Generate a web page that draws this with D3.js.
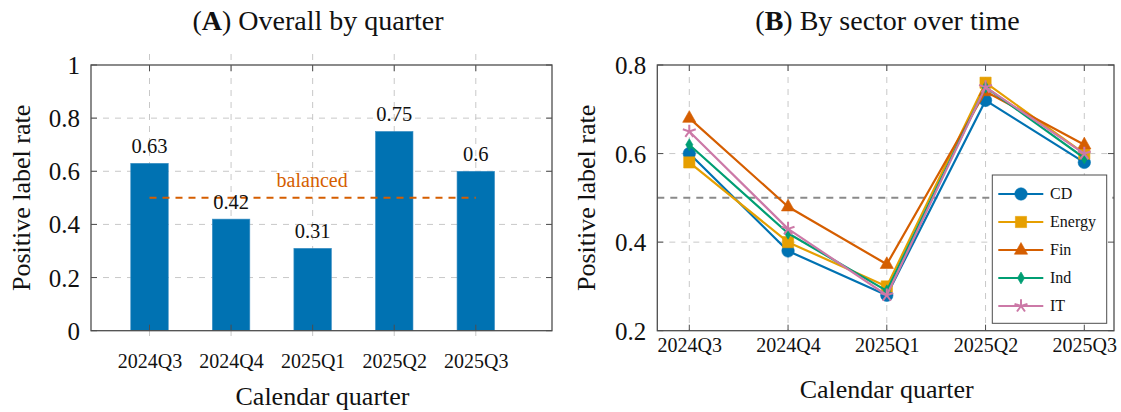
<!DOCTYPE html>
<html>
<head>
<meta charset="utf-8">
<script src="https://cdn.jsdelivr.net/npm/d3@7"></script>
<style>
  html, body { margin: 0; padding: 0; background: #fff; }
  svg { display: block; font-family: "Liberation Serif", "Times New Roman", serif; }
  svg text { font-family: "Liberation Serif", "Times New Roman", serif; }
</style>
</head>
<body>
<svg id="chart" width="1121" height="412"></svg>
<script>
// Quarters shown on both panels
const quarters = ["2024Q3", "2024Q4", "2025Q1", "2025Q2", "2025Q3"];

// Panel A: overall positive label rate per quarter
const overallRate = [0.63, 0.42, 0.31, 0.75, 0.60];
const balancedLevel = 0.5;

// Panel B: positive label rate per sector
const sectorNames = ["CD", "Energy", "Fin", "Ind", "IT"];
const rateCD     = [0.60, 0.38, 0.28, 0.72, 0.58];
const rateEnergy = [0.58, 0.40, 0.30, 0.76, 0.60];
const rateFin    = [0.68, 0.48, 0.35, 0.74, 0.62];
const rateInd    = [0.62, 0.42, 0.29, 0.75, 0.59];
const rateIT     = [0.65, 0.43, 0.28, 0.75, 0.60];

// Tick values
const ticksA = [0, 0.2, 0.4, 0.6, 0.8, 1];
const ticksB = [0.2, 0.4, 0.6, 0.8];

const sectorRates = [rateCD, rateEnergy, rateFin, rateInd, rateIT];
const sectorColors = ["#0072B2", "#E69F00", "#D55E00", "#009E73", "#CC79A7"];
const sectorMarks = ["circle", "square", "triangle", "diamond", "star"];

const svg = d3.select("#chart");
const frameColor = "#4d4d4d";
const gridColor = "#c8c8c8";
const fmt = d => (d === 0 || d === 1) ? String(d) : d3.format(".1f")(d);

// ---------- marker shapes ----------
function markerPath(kind) {
  const p = d3.path();
  if (kind === "circle") {
    p.arc(0, 0, 6.2, 0, 2 * Math.PI);
  } else if (kind === "square") {
    p.rect(-5.6, -5.6, 11.2, 11.2);
  } else if (kind === "triangle") {
    p.moveTo(0, -7.5); p.lineTo(6.6, 4.2); p.lineTo(-6.6, 4.2); p.closePath();
  } else if (kind === "diamond") {
    p.moveTo(0, -6); p.lineTo(3.6, 0); p.lineTo(0, 6); p.lineTo(-3.6, 0); p.closePath();
  } else if (kind === "star") {
    for (let k = 0; k < 5; k++) {
      const a = -Math.PI / 2 + k * 2 * Math.PI / 5;
      p.moveTo(0, 0); p.lineTo(6.8 * Math.cos(a), 6.8 * Math.sin(a));
    }
  }
  return p.toString();
}
function drawMarker(g, kind, color) {
  const m = g.append("path").attr("d", markerPath(kind));
  if (kind === "star") {
    m.attr("fill", "none").attr("stroke", color).attr("stroke-width", 2);
  } else {
    m.attr("fill", color).attr("stroke", color).attr("stroke-width", 0.6);
  }
  return m;
}

// ---------- shared frame helpers ----------
function drawGrid(g, x, y, box, yTicks, opts) {
  const { left, right, top, bottom } = box;
  // horizontal grid
  g.append("g").selectAll("line").data(yTicks.filter(t => y(t) > top + 1 && y(t) < bottom - 1))
    .join("line")
    .attr("x1", left).attr("x2", right)
    .attr("y1", d => y(d)).attr("y2", d => y(d))
    .attr("stroke", gridColor).attr("stroke-width", 1).attr("stroke-dasharray", "6,6");
  // vertical grid
  g.append("g").selectAll("line").data(quarters).join("line")
    .attr("x1", d => x(d)).attr("x2", d => x(d))
    .attr("y1", opts.gridTop).attr("y2", opts.gridBottom)
    .attr("stroke", gridColor).attr("stroke-width", 1).attr("stroke-dasharray", "6,6");
}
function drawBorder(g, x, y, box, yTicks) {
  const { left, right, top, bottom } = box;
  const tk = 6;
  const t = g.append("g").attr("stroke", frameColor).attr("stroke-width", 1);
  yTicks.forEach(v => {
    t.append("line").attr("x1", left).attr("x2", left + tk).attr("y1", y(v)).attr("y2", y(v));
    t.append("line").attr("x1", right).attr("x2", right - tk).attr("y1", y(v)).attr("y2", y(v));
  });
  quarters.forEach(q => {
    t.append("line").attr("x1", x(q)).attr("x2", x(q)).attr("y1", bottom).attr("y2", bottom - tk);
    t.append("line").attr("x1", x(q)).attr("x2", x(q)).attr("y1", top).attr("y2", top + tk);
  });
  g.append("rect")
    .attr("x", left).attr("y", top).attr("width", right - left).attr("height", bottom - top)
    .attr("fill", "none").attr("stroke", frameColor).attr("stroke-width", 1.3);
}
function yAxisLabels(g, y, box, yTicks, size) {
  const ax = g.append("g").attr("transform", `translate(${box.left},0)`)
    .call(d3.axisLeft(y).tickValues(yTicks).tickFormat(fmt).tickSize(0).tickPadding(11));
  ax.attr("font-family", null);
  ax.select(".domain").remove();
  ax.selectAll("text").attr("font-size", size)
    .attr("fill", "#111").attr("dy", "0.34em");
}
function xAxisLabels(g, x, yPos, size) {
  const ax = g.append("g").attr("transform", `translate(0,${yPos})`)
    .call(d3.axisBottom(x).tickSize(0).tickPadding(0));
  ax.attr("font-family", null);
  ax.select(".domain").remove();
  ax.selectAll("text").attr("font-size", size)
    .attr("fill", "#111").attr("dy", "0");
}

// ============ Panel A ============
const boxA = { left: 91, right: 552, top: 65, bottom: 330.7 };
const xA = d3.scalePoint().domain(quarters).range([149.5, 475.8]);
const yA = d3.scaleLinear().domain([0, 1]).range([boxA.bottom, boxA.top]);
const gA = svg.append("g");

drawGrid(gA, xA, yA, boxA, ticksA, { gridTop: 54, gridBottom: 342 });

const barW = 37.5;
gA.append("g").selectAll("rect").data(overallRate).join("rect")
  .attr("x", (d, i) => xA(quarters[i]) - barW / 2)
  .attr("width", barW)
  .attr("y", d => yA(d))
  .attr("height", d => yA(0) - yA(d))
  .attr("fill", "#0072B2")
  .attr("stroke", "#3d8fc4").attr("stroke-width", 0.6);

// balanced reference line
gA.append("line")
  .attr("x1", xA(quarters[0])).attr("x2", xA(quarters[quarters.length - 1]))
  .attr("y1", yA(balancedLevel)).attr("y2", yA(balancedLevel))
  .attr("stroke", "#D55E00").attr("stroke-width", 2).attr("stroke-dasharray", "7,6");
gA.append("text")
  .attr("x", (xA(quarters[0]) + xA(quarters[4])) / 2 - 0.5)
  .attr("y", yA(balancedLevel) - 11)
  .attr("text-anchor", "middle").attr("font-size", 20).attr("fill", "#D55E00")
  .text("balanced");

// value labels
gA.append("g").selectAll("text").data(overallRate).join("text")
  .attr("x", (d, i) => xA(quarters[i]))
  .attr("y", d => yA(d) - 10)
  .attr("text-anchor", "middle").attr("font-size", 20.5).attr("fill", "#111")
  .text(d => String(+d.toFixed(2)));

drawBorder(gA, xA, yA, boxA, ticksA);
yAxisLabels(gA, yA, boxA, ticksA, 25);
xAxisLabels(gA, xA, 368, 20);

gA.append("text").attr("x", (boxA.left + boxA.right) / 2 + 1).attr("y", 405)
  .attr("text-anchor", "middle").attr("font-size", 26).attr("fill", "#111")
  .text("Calendar quarter");
gA.append("text")
  .attr("transform", `translate(30,${(boxA.top + boxA.bottom) / 2}) rotate(-90)`)
  .attr("text-anchor", "middle").attr("font-size", 26).attr("fill", "#111")
  .text("Positive label rate");
const tA = gA.append("text").attr("x", 318).attr("y", 30)
  .attr("text-anchor", "middle").attr("font-size", 28).attr("fill", "#111");
tA.append("tspan").text("(");
tA.append("tspan").attr("font-weight", "bold").text("A");
tA.append("tspan").text(") Overall by quarter");

// ============ Panel B ============
const boxB = { left: 657.3, right: 1114, top: 65, bottom: 330.7 };
const xB = d3.scalePoint().domain(quarters).range([689.3, 1084.3]);
const yB = d3.scaleLinear().domain([0.2, 0.8]).range([boxB.bottom, boxB.top]);
const gB = svg.append("g");

drawGrid(gB, xB, yB, boxB, ticksB, { gridTop: boxB.top, gridBottom: boxB.bottom });

// 0.5 reference
gB.append("line")
  .attr("x1", boxB.left).attr("x2", boxB.right)
  .attr("y1", yB(0.5)).attr("y2", yB(0.5))
  .attr("stroke", "#8a8a8a").attr("stroke-width", 2).attr("stroke-dasharray", "7,6");

const line = d3.line().x((d, i) => xB(quarters[i])).y(d => yB(d));
sectorRates.forEach((vals, s) => {
  const g = gB.append("g");
  g.append("path").datum(vals).attr("d", line)
    .attr("fill", "none").attr("stroke", sectorColors[s]).attr("stroke-width", 2.2)
    .attr("stroke-linejoin", "round");
  vals.forEach((v, i) => {
    const mg = g.append("g").attr("transform", `translate(${xB(quarters[i])},${yB(v)})`);
    drawMarker(mg, sectorMarks[s], sectorColors[s]);
  });
});

drawBorder(gB, xB, yB, boxB, ticksB);
yAxisLabels(gB, yB, boxB, ticksB, 25);
xAxisLabels(gB, xB, 352, 20);

gB.append("text").attr("x", (boxB.left + boxB.right) / 2 + 1).attr("y", 398)
  .attr("text-anchor", "middle").attr("font-size", 26).attr("fill", "#111")
  .text("Calendar quarter");
gB.append("text")
  .attr("transform", `translate(595,${(boxB.top + boxB.bottom) / 2}) rotate(-90)`)
  .attr("text-anchor", "middle").attr("font-size", 26).attr("fill", "#111")
  .text("Positive label rate");
const tB = gB.append("text").attr("x", 887.5).attr("y", 30)
  .attr("text-anchor", "middle").attr("font-size", 28).attr("fill", "#111");
tB.append("tspan").text("(");
tB.append("tspan").attr("font-weight", "bold").text("B");
tB.append("tspan").text(") By sector over time");

// legend
const leg = gB.append("g");
leg.append("rect").attr("x", 992.3).attr("y", 175).attr("width", 114.4).attr("height", 148.3)
  .attr("fill", "#fff").attr("stroke", frameColor).attr("stroke-width", 1);
sectorNames.forEach((name, s) => {
  const yy = 194 + s * 28;
  leg.append("line").attr("x1", 998.3).attr("x2", 1043.3).attr("y1", yy).attr("y2", yy)
    .attr("stroke", sectorColors[s]).attr("stroke-width", 2.2);
  const mg = leg.append("g").attr("transform", `translate(1021,${yy})`);
  drawMarker(mg, sectorMarks[s], sectorColors[s]);
  leg.append("text").attr("x", 1050).attr("y", yy).attr("dy", "0.33em")
    .attr("font-size", 16).attr("fill", "#111").text(name);
});
</script>
</body>
</html>
